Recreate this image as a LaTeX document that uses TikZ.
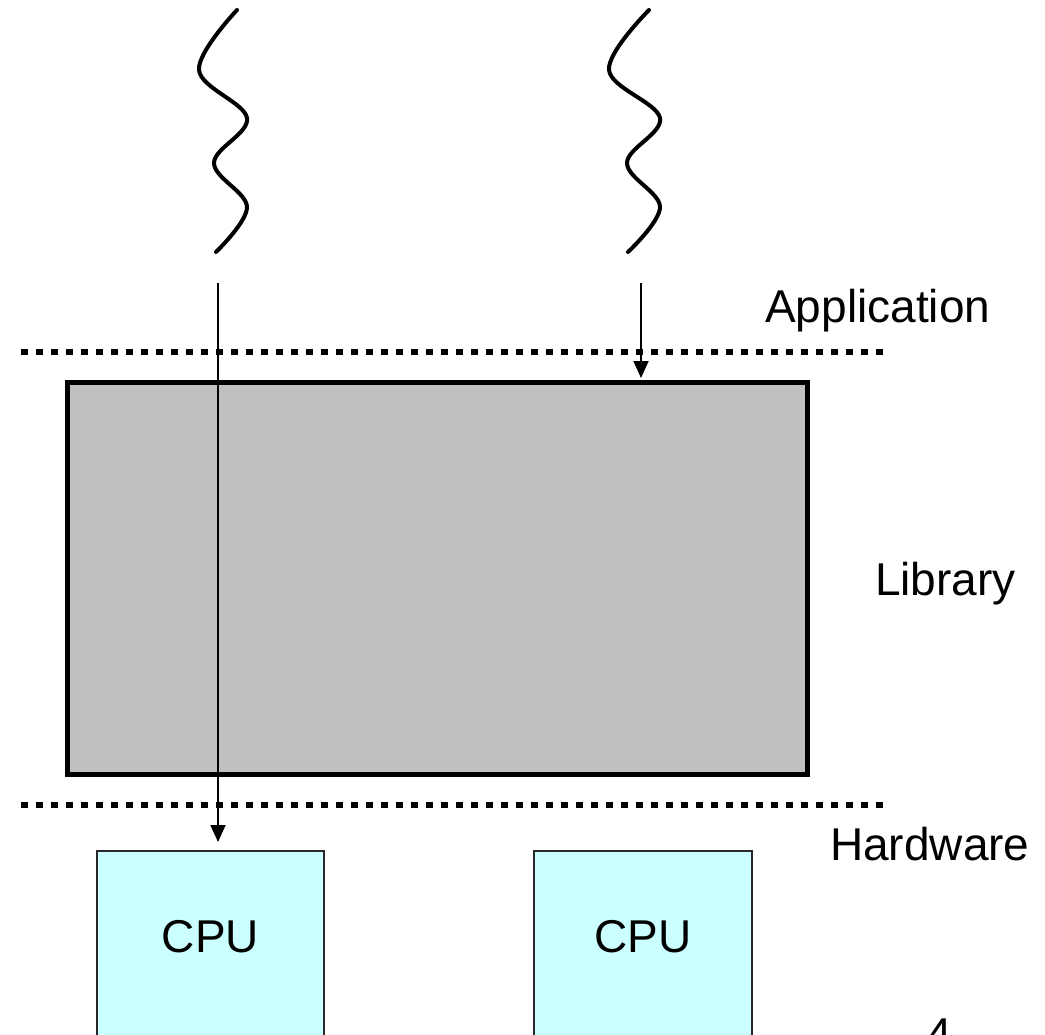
\documentclass[tikz,border=0pt]{standalone}
\usepackage{fontspec}
\setmainfont{Liberation Sans}
\usetikzlibrary{positioning,arrows.meta}
\definecolor{libgray}{RGB}{192,192,192}
\definecolor{cpucyan}{RGB}{204,255,255}
\definecolor{cpuedge}{RGB}{40,40,40}
\tikzset{
  every node/.style={font=\fontsize{46}{55}\selectfont, inner sep=0pt},
  thread/.style={line width=4pt, line cap=round, line join=round},
  layerline/.style={line width=6.5pt, dash pattern=on 6.5pt off 8.5pt},
  libbox/.style={draw, line width=5pt, fill=libgray,
    minimum width=740pt, minimum height=392pt},
  cpubox/.style={draw=cpuedge, line width=1.5pt, fill=cpucyan,
    text height=102pt, text depth=148pt},
  layerlabel/.style={anchor=base west},
  call/.style={-{Triangle[length=17pt, width=15pt]}, line width=1.8pt}
}

\begin{document}
\begin{tikzpicture}[x=1pt, y=-1pt]
  \clip (0,0) rectangle (1045,1035);

  % two user threads
  \draw[thread] plot[smooth, tension=0.6] coordinates
    {(237,10) (199,70) (247,118) (214,163) (247,207) (216,252)};
  \draw[thread] plot[smooth, tension=0.6] coordinates
    {(649,10) (609,70) (660,118) (627,163) (660,207) (628,252)};
  \coordinate (thrA) at (218,283);
  \coordinate (thrB) at (641,283);

  % layer boundaries
  \draw[layerline] (21,352) -- (890,352);
  \draw[layerline] (21,805) -- (890,805);

  % library and processors
  \node[libbox] (lib) at (437.5,578.5) {};
  \node[cpubox, minimum width=227pt, anchor=north] (cpuA) at (210.5,850) {CPU};
  \node[cpubox, minimum width=218pt, anchor=north] (cpuB) at (643,850) {CPU};

  % layer names
  \node[layerlabel] (app)  at (765,323) {Application};
  \node[layerlabel] (libl) at (875,595) {Library};
  \node[layerlabel] (hw)   at (830,860) {Hardware};
  \node[anchor=base] (pg) at (939,1050) {4};

  % calls
  \draw[call, shorten >=8pt] (thrA) -- (thrA |- cpuA.north);
  \draw[call, shorten >=2pt] (thrB) -- (thrB |- lib.north);
\end{tikzpicture}
\end{document}
